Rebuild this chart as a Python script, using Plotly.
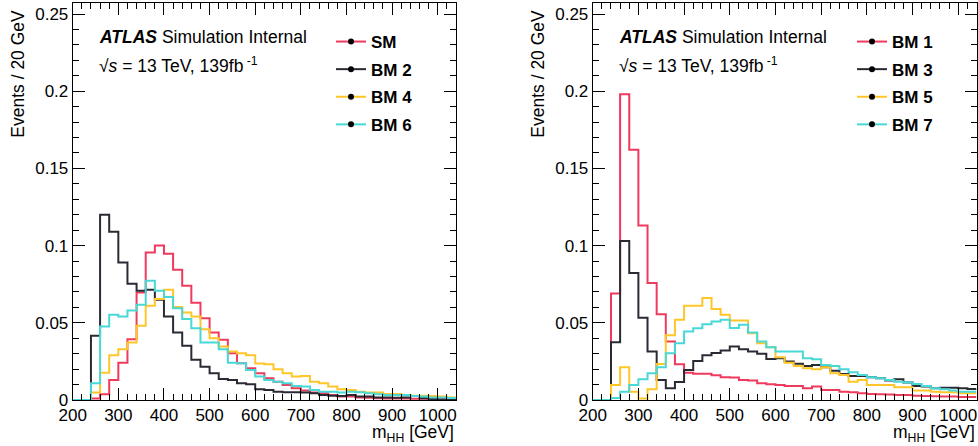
import plotly.graph_objects as go

# ---------------- data ----------------
bin_edges = list(range(200, 1041, 20))  # 200 ... 1040 GeV, 20 GeV bins

x_ticks = [200, 300, 400, 500, 600, 700, 800, 900, 1000]
y_ticks = [0, 0.05, 0.1, 0.15, 0.2, 0.25]
y_ticktext = ["0", "0.05", "0.1", "0.15", "0.2", "0.25"]

left_names = ["SM", "BM 2", "BM 4", "BM 6"]
right_names = ["BM 1", "BM 3", "BM 5", "BM 7"]

sm = [0, 0, 0.001, 0.0037, 0.013, 0.0242, 0.0394, 0.0697, 0.0956, 0.100,
      0.0948, 0.0844, 0.074, 0.063, 0.053, 0.0437, 0.039, 0.0303, 0.0238, 0.0206,
      0.0173, 0.0141, 0.0119, 0.0097, 0.0076, 0.0061, 0.0048, 0.0043, 0.0032, 0.0022,
      0.0022, 0.0017, 0.0015, 0.0011, 0.001, 0.001, 0.001, 0.0008, 0.0008, 0.0007,
      0.0006, 0.0006]
bm2 = [0, 0, 0.0416, 0.120, 0.109, 0.089, 0.0753, 0.0708, 0.0714, 0.0649,
       0.0541, 0.0437, 0.0351, 0.026, 0.0216, 0.0173, 0.0136, 0.013, 0.0108, 0.0102,
       0.0069, 0.0065, 0.0054, 0.005, 0.005, 0.0048, 0.0043, 0.0032, 0.0028, 0.0026,
       0.0032, 0.0022, 0.0022, 0.0017, 0.0017, 0.0015, 0.0017, 0.0026, 0.0011, 0.0006,
       0.0004, 0.0004]
bm4 = [0, 0, 0.0049, 0.0177, 0.029, 0.0329, 0.0372, 0.0481, 0.061, 0.0654,
       0.0714, 0.0602, 0.0567, 0.0541, 0.0459, 0.040, 0.0346, 0.0314, 0.0303, 0.029,
       0.0237, 0.0231, 0.0199, 0.0173, 0.0152, 0.0156, 0.0119, 0.0108, 0.0087, 0.0069,
       0.0065, 0.0054, 0.0048, 0.0048, 0.0039, 0.0039, 0.0032, 0.0028, 0.0028, 0.0026,
       0.0022, 0.0017]
bm6 = [0, 0, 0.0108, 0.0476, 0.0552, 0.054, 0.058, 0.0617, 0.0773, 0.0708,
       0.0667, 0.0595, 0.0524, 0.0465, 0.0372, 0.0372, 0.0329, 0.0242, 0.0238, 0.0195,
       0.0152, 0.013, 0.0119, 0.0108, 0.0091, 0.0087, 0.0065, 0.0054, 0.0054, 0.0048,
       0.0054, 0.005, 0.0043, 0.0037, 0.0032, 0.0032, 0.0032, 0.0026, 0.0022, 0.0017,
       0.0017, 0.0013]

bm1 = [0, 0, 0.069, 0.198, 0.162, 0.113, 0.0758, 0.0556, 0.0379, 0.0232,
       0.0177, 0.017, 0.017, 0.016, 0.0147, 0.0145, 0.013, 0.0126, 0.0108, 0.0102,
       0.0097, 0.0091, 0.0091, 0.0076, 0.0087, 0.0065, 0.0065, 0.0054, 0.005, 0.0043,
       0.0039, 0.0037, 0.0035, 0.0032, 0.0032, 0.0028, 0.0026, 0.0024, 0.0022, 0.0022,
       0.002, 0.002]
bm3 = [0, 0, 0.0374, 0.103, 0.0822, 0.0532, 0.0314, 0.013, 0.0076, 0.0117,
       0.0195, 0.0253, 0.029, 0.0305, 0.032, 0.0346, 0.0329, 0.0314, 0.0299, 0.0266,
       0.0271, 0.0249, 0.0234, 0.0221, 0.0227, 0.0212, 0.019, 0.0169, 0.0156, 0.0156,
       0.0147, 0.0141, 0.0126, 0.0134, 0.0113, 0.0091, 0.0087, 0.0076, 0.008, 0.008,
       0.0076, 0.0071]
bm5 = [0, 0, 0.0097, 0.0212, 0.0054, 0.001, 0.0069, 0.0233, 0.042, 0.052,
       0.061, 0.061, 0.066, 0.0589, 0.0552, 0.0515, 0.0515, 0.0433, 0.0368, 0.0342,
       0.0277, 0.0242, 0.0221, 0.0206, 0.0199, 0.0212, 0.0173, 0.0162, 0.0119, 0.013,
       0.0097, 0.0097, 0.0097, 0.0082, 0.0082, 0.0061, 0.0061, 0.0054, 0.005, 0.005,
       0.0043, 0.0043]
bm7 = [0, 0, 0.0013, 0.0054, 0.0097, 0.0134, 0.0173, 0.0212, 0.0303, 0.0368,
       0.0444, 0.0465, 0.049, 0.0509, 0.052, 0.0466, 0.0487, 0.0437, 0.0379, 0.0342,
       0.0314, 0.0314, 0.0314, 0.0271, 0.0264, 0.0227, 0.0221, 0.0199, 0.018, 0.0162,
       0.0147, 0.0141, 0.013, 0.0119, 0.0113, 0.0104, 0.0091, 0.0076, 0.0069, 0.0061,
       0.0054, 0.0054]

colors = ["#EE3A5C", "#2A2A35", "#FFC629", "#48D8D6"]

# ---------------- figure ----------------
W, H = 978, 446
fig = go.Figure()


def px_x(p):
    return p / W


def px_y(p):
    return (H - p) / H


def add_hist(values, name, color, xa, ya, legend):
    yy = list(values) + [values[-1]]
    fig.add_trace(go.Scatter(
        x=bin_edges, y=yy, mode="lines", line=dict(color=color, width=2, shape="hv"),
        xaxis=xa, yaxis=ya, showlegend=False, hoverinfo="skip"))
    fig.add_trace(go.Scatter(
        x=[None], y=[None], mode="lines+markers", name=name,
        line=dict(color=color, width=2), marker=dict(color="black", size=6),
        xaxis=xa, yaxis=ya, legend=legend, legendgroup=legend + name, showlegend=True))


for v, n, c in zip([sm, bm2, bm4, bm6], left_names, colors):
    add_hist(v, n, c, "x", "y", "legend")
for v, n, c in zip([bm1, bm3, bm5, bm7], right_names, colors):
    add_hist(v, n, c, "x2", "y2", "legend2")

font_family = "Liberation Sans, Arial, Helvetica, sans-serif"
tickfont = dict(family=font_family, size=17, color="black")

y_top_px = 3.3
y_bot_px = 400.0
y_max = (y_bot_px - y_top_px) / 1544.0

xcommon = dict(range=[200, 1040], tickvals=x_ticks, ticks="inside", ticklen=12,
               tickwidth=1, tickcolor="black", showline=True, linecolor="black",
               linewidth=1, mirror="allticks", showgrid=False, zeroline=False,
               tickfont=tickfont, automargin=False,
               minor=dict(dtick=20, ticks="inside", ticklen=6, tickcolor="black",
                          showgrid=False))
ycommon = dict(range=[0, y_max], tickvals=y_ticks, ticktext=y_ticktext, ticks="inside",
               ticklen=12, tickwidth=1, tickcolor="black", showline=True,
               linecolor="black", linewidth=1, mirror="allticks", showgrid=False,
               zeroline=False, tickfont=tickfont, automargin=False,
               minor=dict(dtick=0.01, tick0=0, ticks="inside", ticklen=6,
                          tickcolor="black", showgrid=False))

L1, R1 = 72.7, 456.0
L2, R2 = 592.7, 976.5

legend_font = dict(family=font_family, size=17, color="black", weight="bold")
fig.update_layout(
    width=W, height=H, margin=dict(l=0, r=0, t=0, b=0, autoexpand=False),
    paper_bgcolor="white", plot_bgcolor="white",
    xaxis=dict(domain=[px_x(L1), px_x(R1)], anchor="y", **xcommon),
    yaxis=dict(domain=[px_y(y_bot_px), px_y(y_top_px)], anchor="x", **ycommon),
    xaxis2=dict(domain=[px_x(L2), px_x(R2)], anchor="y2", **xcommon),
    yaxis2=dict(domain=[px_y(y_bot_px), px_y(y_top_px)], anchor="x2", **ycommon),
    legend=dict(x=px_x(331), y=px_y(24), xanchor="left", yanchor="top",
                bgcolor="rgba(0,0,0,0)", borderwidth=0, tracegroupgap=2.5,
                traceorder="grouped", font=legend_font),
    legend2=dict(x=px_x(852), y=px_y(24), xanchor="left", yanchor="top",
                 bgcolor="rgba(0,0,0,0)", borderwidth=0, tracegroupgap=2.5,
                 traceorder="grouped", font=legend_font),
    showlegend=True,
)

ann_font = dict(family=font_family, size=17.5, color="black")
for left_px, right_px in [(L1, R1), (L2, R2)]:
    off = left_px - L1
    fig.add_annotation(xref="paper", yref="paper", x=px_x(97 + off), y=px_y(37),
                       xanchor="left", yanchor="middle", showarrow=False,
                       text="<b><i>ATLAS</i></b> Simulation Internal", font=ann_font)
    fig.add_annotation(xref="paper", yref="paper", x=px_x(97 + off), y=px_y(65),
                       xanchor="left", yanchor="middle", showarrow=False,
                       text="√<i>s</i> = 13 TeV, 139fb<sup> -1</sup>", font=ann_font)
    fig.add_annotation(xref="paper", yref="paper", x=px_x(right_px), y=px_y(433),
                       xanchor="right", yanchor="middle", showarrow=False,
                       text="m<sub>HH</sub> [GeV]", font=ann_font)
    fig.add_annotation(xref="paper", yref="paper", x=px_x(left_px - 55), y=px_y(8),
                       xanchor="center", yanchor="top", showarrow=False, textangle=-90,
                       text="Events / 20 GeV", font=ann_font)

fig.write_html("out.html", config={"displayModeBar": False},
               post_script="document.body.style.margin='0';")
